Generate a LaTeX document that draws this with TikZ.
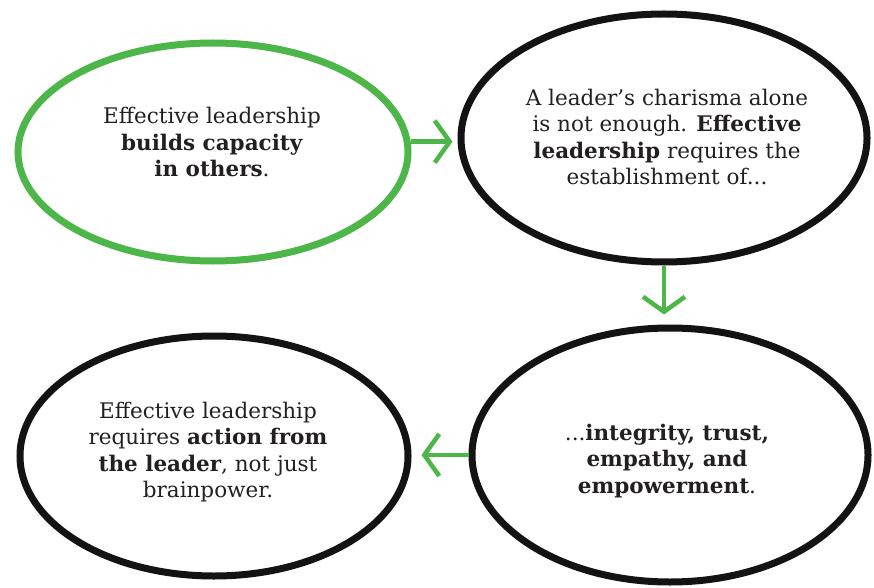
\documentclass[tikz,border=0pt]{standalone}
\usepackage{fontspec}
\setmainfont{DejaVu Serif}
\usetikzlibrary{shapes.geometric,arrows.meta}
\definecolor{lgreen}{RGB}{76,182,72}
\definecolor{ink}{RGB}{20,18,18}
\definecolor{txt}{RGB}{35,31,32}
\tikzset{
  bubble/.style={ellipse, draw=ink, line width=7pt, inner sep=0pt},
  greenbubble/.style={bubble, draw=lgreen},
  label text/.style={align=center, text=txt, font=\fontsize{21.5}{26.5}\selectfont, inner sep=0pt},
  flow/.style={draw=lgreen, line width=4.5pt, -{Straight Barb[length=15pt,width=42pt,line width=4.5pt]}},
}
\begin{document}
\begin{tikzpicture}[x=1pt,y=-1pt]
\useasboundingbox (0,0) rectangle (874,588);
\node[greenbubble, minimum width=390pt, minimum height=218pt] (e1) at (213,152) {};
\node[bubble, minimum width=406pt, minimum height=248pt] (e2) at (664,138) {};
\node[bubble, minimum width=396pt, minimum height=254pt] (e3) at (670,455) {};
\node[bubble, minimum width=388pt, minimum height=240pt] (e4) at (214,456) {};

\node[label text] (t1) at (212,142) {Effective leadership\\\textbf{builds capacity}\\\textbf{in others}.};
\node[label text] (t2) at (667,137) {A leader’s charisma alone\\is not enough. \textbf{Effective}\\\textbf{leadership} requires the\\establishment of...};
\node[label text] (t3) at (667,461) {...\textbf{integrity, trust,}\\\textbf{empathy, and}\\\textbf{empowerment}.};
\node[label text] (t4) at (208,452) {Effective leadership\\requires \textbf{action from}\\\textbf{the leader}, not just\\brainpower.};

\draw[flow, shorten >=5pt] (e1.3) -- (e2.west |- e1.3);
\draw[flow, shorten >=10pt] (e2.south) -- (e2.south |- e3.north);
\draw[flow, shorten >=10pt] (e3.west) -- (e4.east |- e3.west);
\end{tikzpicture}
\end{document}
